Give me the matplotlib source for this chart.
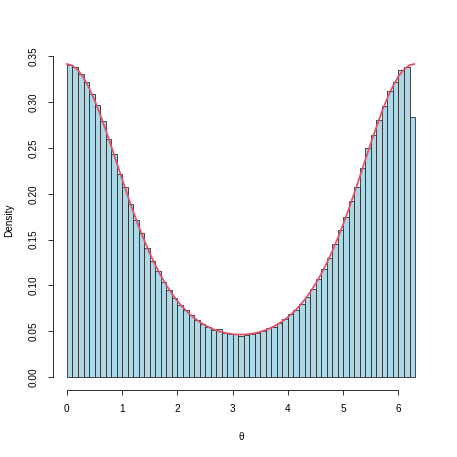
import numpy as np
import matplotlib
matplotlib.use('Agg')
import matplotlib.pyplot as plt

plt.rcParams['font.family'] = ['Liberation Sans', 'DejaVu Sans']

# histogram: bin edges 0, 0.1, ..., 6.3 ; densities
bin_width = 0.1
bar_heights = [
    0.341, 0.338, 0.331, 0.322, 0.309, 0.297, 0.279, 0.260, 0.243, 0.222,
    0.207, 0.189, 0.171, 0.157, 0.141, 0.127, 0.116, 0.104, 0.095, 0.086,
    0.079, 0.073, 0.068, 0.062, 0.058, 0.055, 0.051, 0.052, 0.048, 0.047,
    0.047, 0.045, 0.046, 0.047, 0.048, 0.050, 0.053, 0.055, 0.059, 0.063,
    0.069, 0.073, 0.080, 0.087, 0.096, 0.107, 0.118, 0.130, 0.145, 0.160,
    0.175, 0.192, 0.207, 0.228, 0.250, 0.264, 0.281, 0.296, 0.312, 0.322,
    0.335, 0.339, 0.284,
]

# density curve read at 0, 0.1, ..., 6.2 and 2*pi
curve_x = [round(0.1 * i, 1) for i in range(63)] + [6.2832]
curve_y = [
    0.3417, 0.3400, 0.3350, 0.3268, 0.3158, 0.3023, 0.2869, 0.2701, 0.2523, 0.2341,
    0.2158, 0.1979, 0.1806, 0.1643, 0.1490, 0.1349, 0.1221, 0.1105, 0.1002, 0.0910,
    0.0829, 0.0759, 0.0698, 0.0646, 0.0601, 0.0564, 0.0534, 0.0509, 0.0490, 0.0476,
    0.0467, 0.0463, 0.0463, 0.0468, 0.0478, 0.0493, 0.0513, 0.0538, 0.0570, 0.0608,
    0.0654, 0.0707, 0.0770, 0.0842, 0.0924, 0.1018, 0.1124, 0.1242, 0.1372, 0.1515,
    0.1669, 0.1834, 0.2008, 0.2188, 0.2372, 0.2554, 0.2730, 0.2897, 0.3048, 0.3178,
    0.3284, 0.3360, 0.3405, 0.3417,
]

x_ticks = [0, 1, 2, 3, 4, 5, 6]
y_ticks = [0.00, 0.05, 0.10, 0.15, 0.20, 0.25, 0.30, 0.35]

fig = plt.figure(figsize=(457 / 72, 457 / 72), dpi=72)
ax = fig.add_axes([53 / 457, 1 - 389.5 / 457, 376 / 457, 338 / 457])

lefts = np.arange(len(bar_heights)) * bin_width
ax.bar(lefts, bar_heights, width=bin_width, align='edge',
       color='#ADD8E6', edgecolor='#222222', linewidth=0.8)
ax.plot(curve_x, curve_y, color='#DF536B', lw=1.8)

ax.set_xlim(-0.252, 6.552)
ax.set_ylim(-0.0137, 0.3554)

for s in ['top', 'right']:
    ax.spines[s].set_visible(False)
ax.spines['bottom'].set_bounds(0, 6)
ax.spines['left'].set_bounds(0, 0.35)
for s in ['bottom', 'left']:
    ax.spines[s].set_linewidth(0.8)

ax.set_xticks(x_ticks)
ax.set_yticks(y_ticks)
ax.set_yticklabels(['%.2f' % v for v in y_ticks], rotation=90, va='center')
ax.tick_params(length=5, width=0.8, labelsize=10)
ax.tick_params(axis='x', pad=10)
ax.tick_params(axis='y', pad=9)

ax.set_xlabel('θ', fontsize=10, labelpad=18)
ax.set_ylabel('Density', fontsize=10, labelpad=15)

fig.savefig('out.png', dpi=72)
